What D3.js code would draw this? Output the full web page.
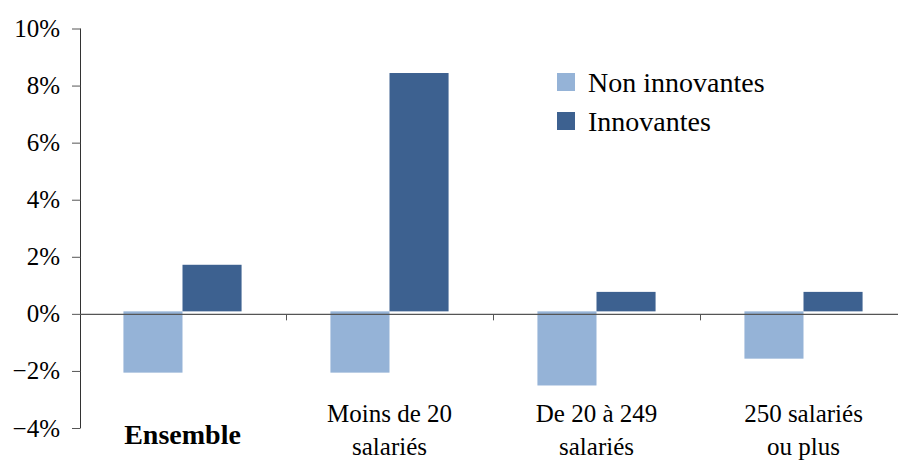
<!DOCTYPE html>
<html>
<head>
<meta charset="UTF-8">
<script src="https://cdn.jsdelivr.net/npm/d3@7"></script>
<style>
  body { margin: 0; background: #fff; }
  svg { display: block; }
  svg text { font-family: "Liberation Serif", "Tinos", "DejaVu Serif", serif; }
</style>
</head>
<body>
<svg id="chart"></svg>
<script>
// data
const categories = ["Ensemble", "Moins de 20 salariés", "De 20 à 249 salariés", "250 salariés ou plus"];
const labelLines = [["Ensemble"], ["Moins de 20", "salariés"], ["De 20 à 249", "salariés"], ["250 salariés", "ou plus"]];
const series = ["Non innovantes", "Innovantes"];
const nonInnovantes = [-0.0206, -0.0206, -0.0251, -0.0157];
const innovantes = [0.0172, 0.0844, 0.0077, 0.0077];
const yTicks = [-0.04, -0.02, 0, 0.02, 0.04, 0.06, 0.08, 0.10];

const width = 898, height = 464;
const margin = {top: 28.5, right: -9, bottom: 36, left: 79};
const colors = ["#95b3d7", "#3d6190"];
const barLift = 2.5;

const rows = categories.map((c, i) => ({cat: c, values: [nonInnovantes[i], innovantes[i]]}));

const svg = d3.select("#chart")
  .attr("width", width)
  .attr("height", height);

const y = d3.scaleLinear()
  .domain([-0.04, 0.10])
  .range([height - margin.bottom, margin.top]);

const x0 = d3.scaleBand()
  .domain(categories)
  .range([margin.left, width - margin.right])
  .padding(0);

const x1 = d3.scaleBand()
  .domain(series)
  .range([0, x0.bandwidth()])
  .paddingInner(0)
  .paddingOuter(0.752);

// bars
svg.append("g")
  .selectAll("g")
  .data(rows)
  .join("g")
    .attr("transform", d => `translate(${x0(d.cat)},0)`)
  .selectAll("rect")
  .data(d => d.values.map((v, i) => ({key: series[i], v: v, i: i})))
  .join("rect")
    .attr("x", d => x1(d.key))
    .attr("width", x1.bandwidth())
    .attr("y", d => d.v >= 0 ? y(d.v) : y(0) - barLift)
    .attr("height", d => d.v >= 0 ? y(0) - barLift - y(d.v) : y(d.v) - y(0) + barLift)
    .attr("fill", d => colors[d.i]);

// y axis
const yAxis = svg.append("g")
  .attr("transform", `translate(80,0)`)
  .call(d3.axisLeft(y).tickValues(yTicks).tickSize(8).tickPadding(12)
    .tickFormat(d => d3.format(".0f")(d * 100) + "%"));
yAxis.attr("font-family", null);
yAxis.select(".domain").attr("stroke", "#333").attr("d", `M0.5,${y(0.10)}V${y(-0.04)}`);
yAxis.selectAll(".tick line").attr("stroke", "#555").attr("x1", 0.5);
yAxis.selectAll(".tick text")
  .attr("font-size", 25)
  .attr("fill", "#000");

// zero line with category ticks
const xAxis = svg.append("g")
  .attr("transform", `translate(0,${y(0) + 0.5})`);
xAxis.append("line")
  .attr("x1", 80)
  .attr("x2", width)
  .attr("stroke", "#555")
  .attr("stroke-width", 1.2);
xAxis.selectAll(".ctick")
  .data(categories.slice(1))
  .join("line")
    .attr("class", "ctick")
    .attr("x1", d => Math.round(x0(d)) + 0.5)
    .attr("x2", d => Math.round(x0(d)) + 0.5)
    .attr("y1", 0)
    .attr("y2", 6)
    .attr("stroke", "#555");

// category labels
const labels = svg.append("g")
  .selectAll("text")
  .data(rows)
  .join("text")
    .attr("text-anchor", "middle")
    .attr("font-size", d => d.cat === "Ensemble" ? 28 : 25)
    .attr("font-weight", d => d.cat === "Ensemble" ? "bold" : "normal")
    .attr("x", d => x0(d.cat) + x0.bandwidth() / 2)
    .attr("y", d => d.cat === "Ensemble" ? 444 : 422);
labels.selectAll("tspan")
  .data((d, i) => labelLines[i])
  .join("tspan")
    .attr("x", function() { return this.parentNode.getAttribute("x"); })
    .attr("dy", (d, i) => i === 0 ? 0 : 33)
    .text(d => d);

// legend
const legend = svg.append("g")
  .attr("transform", "translate(557,73)");
legend.selectAll("rect")
  .data(series)
  .join("rect")
    .attr("x", 0)
    .attr("y", (d, i) => i * 39)
    .attr("width", 18)
    .attr("height", 18)
    .attr("fill", (d, i) => colors[i]);
legend.selectAll("text")
  .data(series)
  .join("text")
    .attr("x", 31)
    .attr("y", (d, i) => i * 39 + 19)
    .attr("font-size", 28)
    .text(d => d);
</script>
</body>
</html>
